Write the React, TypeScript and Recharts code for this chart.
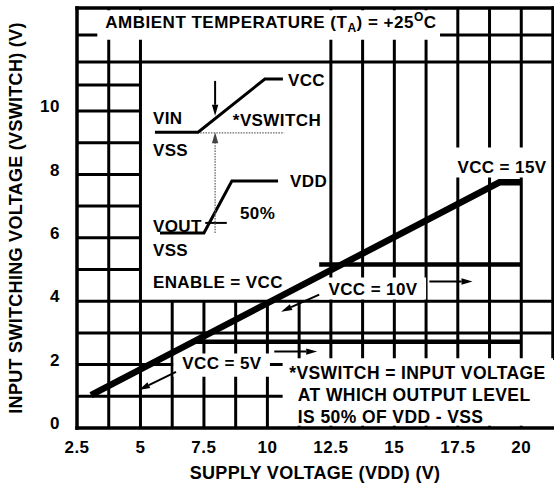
import { ComposedChart, Line, XAxis, YAxis, ReferenceLine, ReferenceArea, ReferenceDot } from "recharts";

const FONT = "'Liberation Sans', Arial, Helvetica, sans-serif";

const xTicks = [2.5, 5, 7.5, 10, 12.5, 15, 17.5, 20];
const yTicks = [0, 2, 4, 6, 8, 10];

// VSWITCH vs VDD
const curveMain = [
  { vdd: 3.05, v: 1.04 },
  { vdd: 19.14, v: 7.75 },
  { vdd: 20, v: 7.75 },
];
const curveVcc10 = [
  { vdd: 12.04, v: 5.16 },
  { vdd: 20, v: 5.16 },
];
const curveVcc5 = [
  { vdd: 7.0, v: 2.72 },
  { vdd: 20, v: 2.72 },
];

// inset sketch of the input / output waveforms
const vinWave = [
  { vdd: 5.57, v: 9.33 },
  { vdd: 7.27, v: 9.33 },
  { vdd: 9.9, v: 11.01 },
  { vdd: 10.61, v: 11.01 },
];
const voutWave = [
  { vdd: 5.77, v: 6.15 },
  { vdd: 7.5, v: 6.15 },
  { vdd: 8.6, v: 7.79 },
  { vdd: 10.42, v: 7.79 },
];

// grid pieces (the datasheet leaves most of the upper area open)
const gridCols = [
  { x: 3.75, top: 13.25 },
  { x: 5, top: 13.25 },
  { x: 6.25, top: 4 },
  { x: 7.5, top: 4 },
  { x: 8.75, top: 4 },
  { x: 10, top: 4 },
  { x: 11.25, top: 4 },
  { x: 12.5, top: 13.25 },
  { x: 13.75, top: 13.25 },
  { x: 15, top: 13.25 },
  { x: 16.25, top: 13.25 },
  { x: 17.5, top: 13.25 },
  { x: 18.75, top: 13.25 },
  { x: 20, top: 13.25 },
];
const gridRows = [
  { y: 1, from: 2.5, to: 21.25 },
  { y: 2, from: 2.5, to: 21.25 },
  { y: 3, from: 2.5, to: 21.25 },
  { y: 4, from: 2.5, to: 21.25 },
  { y: 5, from: 2.5, to: 5 },
  { y: 6, from: 2.5, to: 5 },
  { y: 7, from: 2.5, to: 5 },
  { y: 8, from: 2.5, to: 5 },
  { y: 9, from: 2.5, to: 5 },
  { y: 10, from: 2.5, to: 5 },
  { y: 10.82, from: 2.5, to: 5 },
  { y: 11.55, from: 2.5, to: 21.25 },
  { y: 12.4, from: 2.5, to: 21.25 },
];

// white boxes behind the notes
const masks = [
  { x1: 3.3, x2: 16.8, y1: 12.25, y2: 13.18 },
  { x1: 17.35, x2: 21.15, y1: 7.9, y2: 8.85 },
  { x1: 12.04, x2: 16.25, y1: 4.05, y2: 4.75 },
  { x1: 6.3, x2: 10.1, y1: 1.62, y2: 2.35 },
  { x1: 10.6, x2: 21.25, y1: 0.07, y2: 2.2 },
];

const notes = [
  { x: 5.49, y: 9.78, text: "VIN", anchor: "start", size: 17 },
  { x: 5.49, y: 8.77, text: "VSS", anchor: "start", size: 17 },
  { x: 8.64, y: 9.72, text: "*VSWITCH", anchor: "start", size: 17 },
  { x: 10.81, y: 10.98, text: "VCC", anchor: "start", size: 17 },
  { x: 10.89, y: 7.79, text: "VDD", anchor: "start", size: 17 },
  { x: 8.92, y: 6.78, text: "50%", anchor: "start", size: 17 },
  { x: 5.49, y: 6.37, text: "VOUT", anchor: "start", size: 17 },
  { x: 5.49, y: 5.62, text: "VSS", anchor: "start", size: 17 },
  { x: 5.49, y: 4.61, text: "ENABLE = VCC", anchor: "start", size: 17 },
  { x: 19.24, y: 8.23, text: "VCC = 15V", anchor: "middle", size: 17 },
  { x: 14.16, y: 4.38, text: "VCC = 10V", anchor: "middle", size: 17 },
  { x: 8.21, y: 2.05, text: "VCC = 5V", anchor: "middle", size: 17 },
  { x: 10.86, y: 1.74, text: "*VSWITCH = INPUT VOLTAGE", anchor: "start", size: 17.5 },
  { x: 11.2, y: 1.04, text: "AT WHICH OUTPUT LEVEL", anchor: "start", size: 17.5 },
  { x: 11.2, y: 0.35, text: "IS 50% OF VDD - VSS", anchor: "start", size: 17.5 },
];

const arrows = [
  { x1: 6.4, y1: 1.77, x2: 4.94, y2: 1.2, dotted: false },
  { x1: 10.27, y1: 2.41, x2: 11.96, y2: 2.41, dotted: false },
  { x1: 16.38, y1: 4.62, x2: 18.08, y2: 4.62, dotted: false },
  { x1: 12.04, y1: 4.21, x2: 10.54, y2: 3.67, dotted: false },
  { x1: 7.94, y1: 10.95, x2: 7.94, y2: 9.85, dotted: false },
  { x1: 7.94, y1: 6.15, x2: 7.94, y2: 9.33, dotted: true },
];

const txt = { fontFamily: FONT, fontWeight: 700, fill: "#000" };

const arrowShape = (dotted: boolean) => (p: any) => {
  const { x1, y1, x2, y2 } = p;
  const a = Math.atan2(y2 - y1, x2 - x1);
  const len = 11;
  const w = 3.2;
  const bx = x2 - len * Math.cos(a);
  const by = y2 - len * Math.sin(a);
  const pts = [
    [x2, y2],
    [bx - w * Math.sin(a), by + w * Math.cos(a)],
    [bx + w * Math.sin(a), by - w * Math.cos(a)],
  ];
  return (
    <g>
      <line
        x1={x1}
        y1={y1}
        x2={bx}
        y2={by}
        stroke={dotted ? "#666" : "#000"}
        strokeWidth={dotted ? 1.3 : 2}
        strokeDasharray={dotted ? "1.5 1.2" : undefined}
      />
      <polygon points={pts.map((q) => q.join(",")).join(" ")} fill={dotted ? "#444" : "#000"} />
    </g>
  );
};

const XTick = (p: any) => (
  <text x={p.x} y={p.y} dy="0.71em" textAnchor="middle" fontSize={17} letterSpacing={0.5} {...txt}>
    {p.payload.value}
  </text>
);

const YTick = (p: any) => (
  <text x={p.x} y={p.y - 5} dy="0.36em" textAnchor="end" fontSize={17} letterSpacing={0.5} {...txt}>
    {p.payload.value}
  </text>
);

export default function App() {
  return (
    <div style={{ position: "absolute", left: 0, top: 0, background: "#fff" }}>
      <ComposedChart width={554} height={487} margin={{ top: 8, right: 1, bottom: 0, left: 0 }}>
        <XAxis
          type="number"
          dataKey="vdd"
          domain={[2.5, 21.25]}
          ticks={xTicks}
          axisLine={false}
          tickLine={false}
          tickMargin={7}
          height={59}
          tick={XTick}
          label={(p: any) => {
            const vb = p.viewBox;
            return (
              <text x={vb.x + vb.width / 2} y={vb.y + 51} textAnchor="middle" fontSize={18} letterSpacing={0.3} {...txt}>
                SUPPLY VOLTAGE (VDD) (V)
              </text>
            );
          }}
        />
        <YAxis
          type="number"
          domain={[0, 13.25]}
          ticks={yTicks}
          axisLine={false}
          tickLine={false}
          tickMargin={11}
          width={77}
          tick={YTick}
          label={(p: any) => {
            const vb = p.viewBox;
            const cx = vb.x + 16;
            const cy = vb.y + vb.height / 2;
            return (
              <text
                x={cx}
                y={cy}
                dy="0.36em"
                transform={`rotate(-90 ${cx} ${cy})`}
                textAnchor="middle"
                fontSize={18}
                letterSpacing={0.3}
                {...txt}
              >
                INPUT SWITCHING VOLTAGE (VSWITCH) (V)
              </text>
            );
          }}
        />

        {gridCols.map((c) => (
          <ReferenceLine
            key={`c${c.x}`}
            segment={[{ x: c.x, y: 0 }, { x: c.x, y: c.top }]}
            stroke="#000"
            strokeWidth={3}
            ifOverflow="visible"
            zIndex={-80}
          />
        ))}
        {gridRows.map((r) => (
          <ReferenceLine
            key={`r${r.y}`}
            segment={[{ x: r.from, y: r.y }, { x: r.to, y: r.y }]}
            stroke="#000"
            strokeWidth={3}
            ifOverflow="visible"
            zIndex={-80}
          />
        ))}
        {/* frame */}
        <ReferenceLine segment={[{ x: 2.5, y: 0 }, { x: 21.25, y: 0 }]} stroke="#000" strokeWidth={3.5} strokeLinecap="square" ifOverflow="visible" zIndex={-80} />
        <ReferenceLine segment={[{ x: 2.5, y: 13.25 }, { x: 21.25, y: 13.25 }]} stroke="#000" strokeWidth={3.5} strokeLinecap="square" ifOverflow="visible" zIndex={-80} />
        <ReferenceLine segment={[{ x: 2.5, y: 0 }, { x: 2.5, y: 13.25 }]} stroke="#000" strokeWidth={3.5} strokeLinecap="square" ifOverflow="visible" zIndex={-80} />
        <ReferenceLine segment={[{ x: 21.25, y: 2.2 }, { x: 21.25, y: 13.25 }]} stroke="#000" strokeWidth={3.5} strokeLinecap="square" ifOverflow="visible" zIndex={-80} />

        {masks.map((m, i) => (
          <ReferenceArea key={`m${i}`} {...m} fill="#fff" fillOpacity={1} stroke="none" ifOverflow="visible" zIndex={-60} />
        ))}

        <Line data={curveVcc5} dataKey="v" stroke="#000" strokeWidth={4.5} dot={false} activeDot={false} isAnimationActive={false} />
        <Line data={curveVcc10} dataKey="v" stroke="#000" strokeWidth={4.5} dot={false} activeDot={false} isAnimationActive={false} />
        <Line data={curveMain} dataKey="v" stroke="#000" strokeWidth={6.5} dot={false} activeDot={false} isAnimationActive={false} />
        <Line data={vinWave} dataKey="v" stroke="#000" strokeWidth={3} dot={false} activeDot={false} isAnimationActive={false} />
        <Line data={voutWave} dataKey="v" stroke="#000" strokeWidth={3} dot={false} activeDot={false} isAnimationActive={false} />

        {/* dotted VSS reference and 50% tick in the inset */}
        <ReferenceLine
          segment={[{ x: 7.35, y: 9.31 }, { x: 10.66, y: 9.31 }]}
          stroke="#666"
          strokeWidth={1.3}
          strokeDasharray="1.5 1.2"
          ifOverflow="visible"
          zIndex={450}
        />
        <ReferenceLine segment={[{ x: 7.55, y: 6.47 }, { x: 8.4, y: 6.47 }]} stroke="#000" strokeWidth={2} ifOverflow="visible" zIndex={450} />

        {arrows.map((a, i) => (
          <ReferenceLine
            key={`a${i}`}
            segment={[{ x: a.x1, y: a.y1 }, { x: a.x2, y: a.y2 }]}
            ifOverflow="visible"
            zIndex={450}
            shape={arrowShape(a.dotted)}
          />
        ))}

        <ReferenceDot
          x={10.14}
          y={12.81}
          r={1}
          ifOverflow="visible"
          zIndex={700}
          shape={(p: any) => (
            <text x={p.cx} y={p.cy} dy="0.36em" textAnchor="middle" fontSize={17} letterSpacing={0.5} {...txt}>
              <tspan>AMBIENT TEMPERATURE (T</tspan>
              <tspan dy={4} fontSize={12}>A</tspan>
              <tspan dy={-4}>) = +25</tspan>
              <tspan dy={-7} fontSize={12}>O</tspan>
              <tspan dy={7}>C</tspan>
            </text>
          )}
        />
        {notes.map((n, i) => (
          <ReferenceDot
            key={`n${i}`}
            x={n.x}
            y={n.y}
            r={1}
            ifOverflow="visible"
            zIndex={700}
            shape={(p: any) => (
              <text x={p.cx} y={p.cy} dy="0.36em" textAnchor={n.anchor} fontSize={n.size} letterSpacing={0.4} {...txt}>
                {n.text}
              </text>
            )}
          />
        ))}
      </ComposedChart>
    </div>
  );
}
